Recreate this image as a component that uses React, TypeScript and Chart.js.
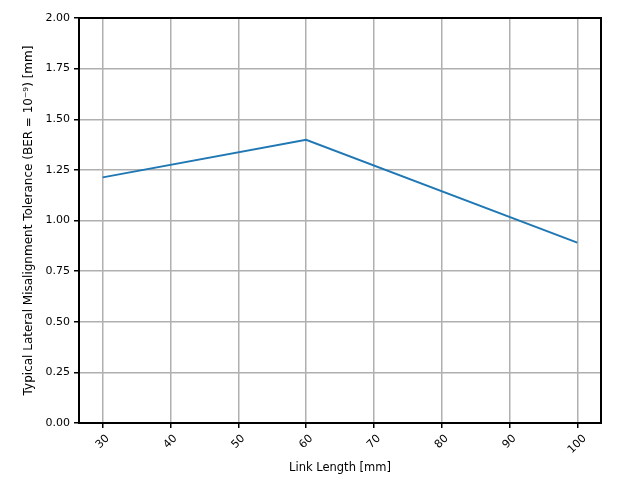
import React, { useEffect, useRef } from "react";
import { Chart, registerables } from "chart.js";

Chart.register(...registerables);

const linkLengths = [30, 60, 100];
const tolerances = [1.213, 1.399, 0.891];
const xTicks = [30, 40, 50, 60, 70, 80, 90, 100];
const yTicks = [0, 0.25, 0.5, 0.75, 1.0, 1.25, 1.5, 1.75, 2.0];
const xTitle = "Link Length [mm]";
const yTitle = "Typical Lateral Misalignment Tolerance (BER = 10\u207B\u2079) [mm]";

const FONT = "'DejaVu Sans', sans-serif";
const TICK_SIZE = 11;
const TITLE_SIZE = 11.5;

const framePlugin = {
  id: "frame",
  afterDraw(chart: any) {
    const { ctx, chartArea } = chart;
    ctx.save();
    ctx.strokeStyle = "#000";
    ctx.lineWidth = 2;
    ctx.strokeRect(chartArea.left, chartArea.top, chartArea.right - chartArea.left, chartArea.bottom - chartArea.top);
    // rotated x tick labels, centred under their ticks (matplotlib style)
    const xs = chart.scales.x;
    ctx.fillStyle = "#000";
    ctx.font = `${TICK_SIZE}px ${FONT}`;
    ctx.textAlign = "center";
    ctx.textBaseline = "middle";
    const a = Math.PI / 4;
    xTicks.forEach((v) => {
      const label = String(v);
      const w = ctx.measureText(label).width;
      const h = TICK_SIZE;
      const halfH = (w * Math.sin(a) + h * Math.cos(a)) / 2;
      const px = xs.getPixelForValue(v);
      const py = chartArea.bottom + 5 + 5 + halfH;
      ctx.save();
      ctx.translate(px, py);
      ctx.rotate(-a);
      ctx.fillText(label, 0, 0);
      ctx.restore();
    });
    ctx.restore();
  },
};

export default function App() {
  const ref = useRef<HTMLCanvasElement | null>(null);
  useEffect(() => {
    document.body.style.margin = "0";
    const canvas = ref.current!;
    const chart = new Chart(canvas, {
      type: "scatter",
      data: {
        datasets: [
          {
            data: linkLengths.map((x, i) => ({ x, y: tolerances[i] })),
            showLine: true,
            borderColor: "#1f77b4",
            backgroundColor: "#1f77b4",
            borderWidth: 2,
            pointRadius: 0,
            tension: 0,
          },
        ],
      },
      options: {
        animation: false,
        responsive: false,
        devicePixelRatio: 1,
        layout: { padding: { left: 18, right: 36, top: 18, bottom: 1 } },
        plugins: { legend: { display: false }, tooltip: { enabled: false } },
        scales: {
          x: {
            type: "linear",
            min: 26.5,
            max: 103.5,
            afterBuildTicks: (scale: any) => {
              scale.ticks = xTicks.map((v) => ({ value: v }));
            },
            afterFit: (scale: any) => {
              scale.height = 56;
            },
            grid: {
              color: "#b0b0b0",
              lineWidth: 1.5,
              tickColor: "#000",
              tickLength: 5,
              tickWidth: 1.5,
            },
            border: { color: "#000", width: 2 },
            ticks: {
              display: false,
            },
            title: {
              display: true,
              text: xTitle,
              color: "#000",
              font: { family: FONT, size: TITLE_SIZE },
              padding: { top: 4, bottom: 4 },
            },
          },
          y: {
            type: "linear",
            min: 0,
            max: 2,
            afterBuildTicks: (scale: any) => {
              scale.ticks = yTicks.map((v) => ({ value: v }));
            },
            afterFit: (scale: any) => {
              scale.width = 61;
            },
            grid: {
              color: "#b0b0b0",
              lineWidth: 1.5,
              tickColor: "#000",
              tickLength: 5,
              tickWidth: 1.5,
            },
            border: { color: "#000", width: 2 },
            ticks: {
              color: "#000",
              font: { family: FONT, size: TICK_SIZE },
              padding: 4,
              callback: (v: any) => Number(v).toFixed(2),
            },
            title: {
              display: true,
              text: yTitle,
              color: "#000",
              font: { family: FONT, size: 12 },
              padding: { top: 4, bottom: 4 },
            },
          },
        },
      },
      plugins: [framePlugin],
    });
    return () => chart.destroy();
  }, []);
  return (
    <div style={{ position: "fixed", left: 0, top: 0, width: 637, height: 480, background: "#fff" }}>
      <canvas ref={ref} width={637} height={480} style={{ width: 637, height: 480 }} />
    </div>
  );
}
